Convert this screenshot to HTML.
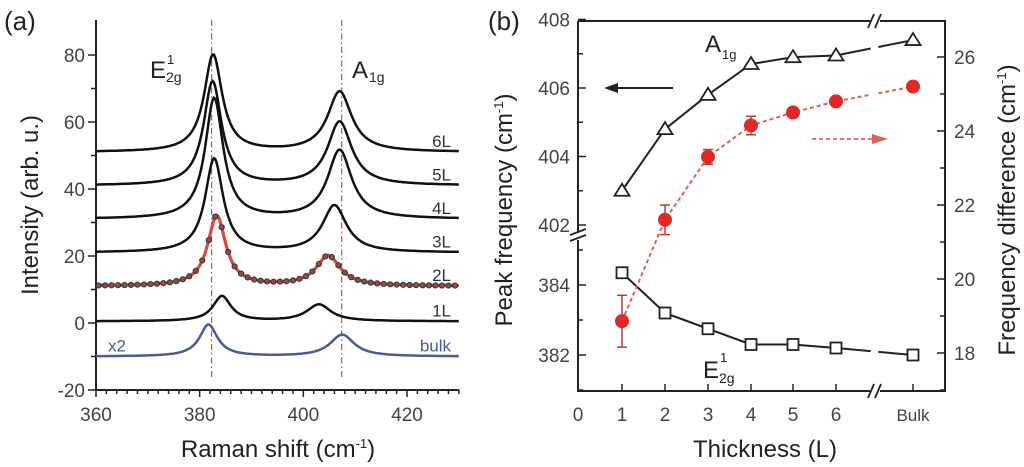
<!DOCTYPE html>
<html><head><meta charset="utf-8"><style>
html,body{margin:0;padding:0;background:#fff;}
svg{display:block;font-family:"Liberation Sans",sans-serif;}
</style></head><body>
<svg id="fig" width="1024" height="467" viewBox="0 0 1024 467" xmlns="http://www.w3.org/2000/svg">
<g id="pa"></g>
<g id="pb"></g>
</svg>
<script>
// ---------- Panel (a) data ----------
const aLayers = ["6L","5L","4L","3L","2L","1L","bulk"];
const aBase   = [51, 41, 31, 21, 11, 0.5, -10];
const aEPos   = [382.6, 382.5, 382.8, 382.8, 383.3, 384.3, 381.7];
const aEAmp   = [29, 31, 36, 28, 21, 7.5, 9.5];
const aAPos   = [407.0, 407.0, 407.0, 406.0, 404.8, 403.0, 407.5];
const aAAmp   = [18, 19, 20.5, 14, 9, 5, 6.5];
const aXTicks = [360, 380, 400, 420];
const aYTicks = [-20, 0, 20, 40, 60, 80];
// ---------- Panel (b) data ----------
const bCats   = ["1","2","3","4","5","6","Bulk"];
const bA1g    = [403.0, 404.8, 405.8, 406.7, 406.9, 406.95, 407.4];
const bE2g    = [384.35, 383.2, 382.75, 382.3, 382.3, 382.2, 382.0];
const bDiff   = [18.86, 21.6, 23.3, 24.15, 24.5, 24.8, 25.2];
const bDiffErr= [0.7, 0.4, 0.2, 0.25, 0.12, 0.1, 0.12];
const bXTickLabels = ["0","1","2","3","4","5","6","Bulk"];
const bUpperTicks = [402, 404, 406, 408];
const bLowerTicks = [382, 384];
const bRightTicks = [18, 20, 22, 24, 26];

const NS="http://www.w3.org/2000/svg";
function mk(parent,tag,attrs,text){const e=document.createElementNS(NS,tag);for(const k in attrs)e.setAttribute(k,attrs[k]);if(text!==undefined)e.textContent=text;parent.appendChild(e);return e;}
function sup(el,txt){const s=mk(el,'tspan',{dy:-9,'font-size':13},txt);return s;}

// ===== Panel A =====
const pa=document.getElementById('pa');
const ax=v=>96+(v-360)*(311/60);
const ay=v=>323-v*(67/20);
function lor(x,x0,a,g){return a*g*g/((x-x0)*(x-x0)+g*g);}
function spec(i,x){return aBase[i]+lor(x,aEPos[i],aEAmp[i],2.1)+lor(x,aAPos[i],aAAmp[i],2.8);}
let t=mk(pa,'path',{d:`M${ax(360)} 20 V${ay(-20)} H${ax(430)}`,fill:'none',stroke:'#222','stroke-width':2});

for(let v=-20;v<=85;v+=10){const maj=v%20===0;
 let k=mk(pa,'line',{x1:ax(360),x2:ax(360)-(maj?8:5),y1:ay(v),y2:ay(v),stroke:'#222','stroke-width':1.5});
 }
aYTicks.forEach(v=>{let l=mk(pa,'text',{x:ax(360)-11,y:ay(v)+7,'text-anchor':'end','font-size':19,fill:'#444'},String(v));
 });
for(let v=360;v<=430;v+=2){const maj=v%20===0;
 let k=mk(pa,'line',{x1:ax(v),x2:ax(v),y1:ay(-20),y2:ay(-20)+(maj?7:4),stroke:'#222','stroke-width':1.5});
 }
aXTicks.forEach(v=>{let l=mk(pa,'text',{x:ax(v),y:421,'text-anchor':'middle','font-size':19,fill:'#444'},String(v));
 });
[382.3,407.4].forEach(v=>{let l=mk(pa,'line',{x1:ax(v),x2:ax(v),y1:20,y2:378,stroke:'#c05050','stroke-width':1.2,'stroke-dasharray':'6,3,1.5,3'});
 });
aLayers.forEach((name,i)=>{
 let d='';for(let x=360;x<=430.01;x+=0.25){d+=(d?'L':'M')+ax(x).toFixed(1)+' '+ay(spec(i,x)).toFixed(1);}
 const col=name==='bulk'?'#4a5a96':(name==='2L'?'#d84a40':'#111');
 let p=mk(pa,'path',{d,fill:'none',stroke:col,'stroke-width':name==='2L'?3.2:2.5});
 
 if(name==='2L'){for(let x=360.5;x<=430;x+=1.25){let c=mk(pa,'circle',{cx:ax(x),cy:ay(spec(i,x)),r:2.6,fill:'#8a5050',stroke:'#333','stroke-width':1});
   }}
 let lb=mk(pa,'text',{x:451,y:ay(aBase[i])-5,'text-anchor':'end','font-size':17,fill:name==='bulk'?'#4a5a96':'#333'},name);
 
});
t=mk(pa,'text',{x:108,y:ay(-10)-5,'font-size':17,fill:'#4a5a96'},'x2');
t=mk(pa,'text',{x:150,y:78,'font-size':24,fill:'#222'},'E');
mk(pa,'text',{x:167,y:64,'font-size':13,fill:'#222'},'1');mk(pa,'text',{x:166,y:82,'font-size':14,fill:'#222'},'2g');
t=mk(pa,'text',{x:352,y:78,'font-size':24,fill:'#222'},'A');
mk(pa,'text',{x:369,y:82,'font-size':14,fill:'#222'},'1g');
t=mk(pa,'text',{x:4,y:30,'font-size':26,fill:'#222'},'(a)');
t=mk(pa,'text',{x:0,y:0,'font-size':24,fill:'#222','text-anchor':'middle',transform:'translate(38,205) rotate(-90)'},'Intensity (arb. u.)');

t=mk(pa,'text',{x:278,y:457,'font-size':24,fill:'#222','text-anchor':'middle'},'Raman shift (cm');

sup(t,'-1');mk(t,'tspan',{dy:9},')');

// ===== Panel B =====
const pb=document.getElementById('pb');
const L=578,R=945,T=21,B=391;
const bx=i=>i<6?622+i*43+(i>3?-1:0):913;
const byU=v=>88-(v-406)*34.25;
const byL=v=>355-(v-382)*35;
const byR=v=>353-(v-18)*37;
t=mk(pb,'path',{d:`M${L} ${T} H${R} V${B} H${L} V240 M${L} 232 V${T}`,fill:'none',stroke:'#222','stroke-width':2});

[[T],[B]].forEach(([y])=>{mk(pb,'rect',{x:870,y:y-4,width:10,height:8,fill:'#fff'});
 mk(pb,'line',{x1:868,y1:y+7,x2:874,y2:y-7,stroke:'#222','stroke-width':1.8});mk(pb,'line',{x1:875,y1:y+7,x2:881,y2:y-7,stroke:'#222','stroke-width':1.8});});
mk(pb,'line',{x1:570,y1:235,x2:586,y2:229,stroke:'#222','stroke-width':1.8});mk(pb,'line',{x1:570,y1:241,x2:586,y2:235,stroke:'#222','stroke-width':1.8});
for(let v=402;v<=408;v+=1){let k=mk(pb,'line',{x1:L,x2:L+(v%2?5:8),y1:byU(v),y2:byU(v),stroke:'#222','stroke-width':1.5});}
for(let v=381;v<=385;v+=1){let k=mk(pb,'line',{x1:L,x2:L+(v%2?5:8),y1:byL(v),y2:byL(v),stroke:'#222','stroke-width':1.5});}
bUpperTicks.forEach(v=>{let l=mk(pb,'text',{x:L-8,y:byU(v)+7,'text-anchor':'end','font-size':19,fill:'#444'},String(v));});
bLowerTicks.forEach(v=>{let l=mk(pb,'text',{x:L-8,y:byL(v)+7,'text-anchor':'end','font-size':19,fill:'#444'},String(v));});
for(let v=17;v<=27;v+=1){const y=byR(v);if(y<T||y>B)continue;let k=mk(pb,'line',{x1:R,x2:R-(v%2?5:8),y1:y,y2:y,stroke:'#222','stroke-width':1.5});}
bRightTicks.forEach(v=>{let l=mk(pb,'text',{x:R+9,y:byR(v)+7,'font-size':19,fill:'#444'},String(v));});
const xtPos=[578,...bCats.map((c,i)=>bx(i))];
bXTickLabels.forEach((lab,i)=>{let k=mk(pb,'line',{x1:xtPos[i],x2:xtPos[i],y1:B,y2:B-7,stroke:'#222','stroke-width':1.5});
 let l=mk(pb,'text',{x:xtPos[i],y:421,'text-anchor':'middle','font-size':lab==='Bulk'?17:19,fill:'#444'},lab);});
function line(vals,yf,name,attrs){let d='';for(let i=0;i<6;i++)d+=(i?'L':'M')+bx(i)+' '+yf(vals[i]);
 const x5=bx(5),x6=bx(6),y5=yf(vals[5]),y6=yf(vals[6]);
 d+=`L${x5+(x6-x5)*0.45} ${y5+(y6-y5)*0.45} M${x5+(x6-x5)*0.55} ${y5+(y6-y5)*0.55} L${x6} ${y6}`;
 let p=mk(pb,'path',Object.assign({d,fill:'none'},attrs));}
line(bA1g,byU,'a1g-line',{stroke:'#222','stroke-width':2});
line(bE2g,byL,'e2g-line',{stroke:'#222','stroke-width':2});
line(bDiff,byR,'diff-line',{stroke:'#e06060','stroke-width':2,'stroke-dasharray':'4,3'});
bCats.forEach((c,i)=>{const x=bx(i),y=byU(bA1g[i]);
 let m=mk(pb,'path',{d:`M${x} ${y-7} L${x+7.5} ${y+5} L${x-7.5} ${y+5}Z`,fill:'#fff',stroke:'#222','stroke-width':1.8});
 const ye=byL(bE2g[i]);
 m=mk(pb,'rect',{x:x-5.5,y:ye-5.5,width:11,height:11,fill:'#fff',stroke:'#222','stroke-width':1.8});
 const yd=byR(bDiff[i]),e=bDiffErr[i]*37;
 m=mk(pb,'path',{d:`M${x} ${yd-e} V${yd+e} M${x-5} ${yd-e} H${x+5} M${x-5} ${yd+e} H${x+5}`,stroke:'#b04040','stroke-width':1.5,fill:'none'});
 m=mk(pb,'circle',{cx:x,cy:yd,r:7,fill:'#e02828'});
});
t=mk(pb,'path',{d:'M673 88 H615',stroke:'#222','stroke-width':2});
mk(pb,'path',{d:'M604 88 L618 83 L618 93Z',fill:'#222'});
t=mk(pb,'path',{d:'M812 139 H872',stroke:'#e06060','stroke-width':1.8,'stroke-dasharray':'4,3'});
mk(pb,'path',{d:'M888 139 L872 134 L872 144Z',fill:'#e06060'});
t=mk(pb,'text',{x:705,y:52,'font-size':24,fill:'#222'},'A');
mk(pb,'text',{x:722,y:59,'font-size':13,fill:'#222'},'1g');
t=mk(pb,'text',{x:703,y:378,'font-size':24,fill:'#222'},'E');
mk(pb,'text',{x:720,y:362,'font-size':13,fill:'#222'},'1');mk(pb,'text',{x:719,y:383,'font-size':14,fill:'#222'},'2g');
t=mk(pb,'text',{x:488,y:30,'font-size':26,fill:'#222'},'(b)');
t=mk(pb,'text',{x:0,y:0,'font-size':24,fill:'#222','text-anchor':'middle',transform:'translate(512,210) rotate(-90)'},'Peak frequency (cm');
sup(t,'-1');mk(t,'tspan',{dy:9},')');

t=mk(pb,'text',{x:0,y:0,'font-size':24,fill:'#222','text-anchor':'middle',transform:'translate(1015,210) rotate(-90)'},'Frequency difference (cm');
sup(t,'-1');mk(t,'tspan',{dy:9},')');

t=mk(pb,'text',{x:765,y:457,'font-size':24,fill:'#222','text-anchor':'middle'},'Thickness (L)');

</script>
</body></html>
